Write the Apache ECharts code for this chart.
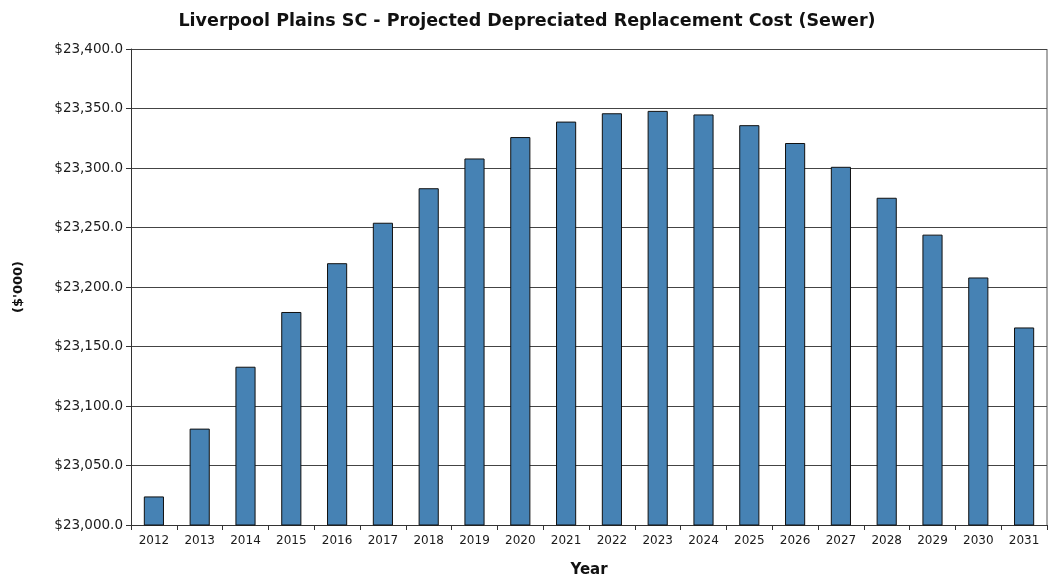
<!DOCTYPE html>
<html>
<head>
<meta charset="utf-8">
<script src="https://cdn.jsdelivr.net/npm/echarts@6/dist/echarts.min.js"></script>
<style>
  html, body { margin: 0; padding: 0; background: #fff; }
  #chart { width: 1048px; height: 580px; }
</style>
</head>
<body>
<div id="chart"></div>
<script>
// Projected depreciated replacement cost of sewer assets, $'000
const years = ['2012','2013','2014','2015','2016','2017','2018','2019','2020','2021',
               '2022','2023','2024','2025','2026','2027','2028','2029','2030','2031'];
const costValues = [23024, 23081, 23133, 23179, 23220, 23254, 23283, 23308, 23326, 23339,
                    23346, 23348, 23345, 23336, 23321, 23301, 23275, 23244, 23208, 23166];
const yMin = 23000;
const yMax = 23400;
const yStep = 50;

const chart = echarts.init(document.getElementById('chart'));

function money(v) {
  return '$' + v.toLocaleString('en-US', { minimumFractionDigits: 1, maximumFractionDigits: 1 });
}

chart.setOption({
  animation: false,
  title: {
    text: "Liverpool Plains SC - Projected Depreciated Replacement Cost (Sewer)",
    left: 522,
    textAlign: 'center',
    top: 7,
    textStyle: { fontFamily: 'DejaVu Sans', fontWeight: 'bold', fontSize: 17.5, color: '#111' }
  },
  grid: { left: 131, right: 1, top: 49, bottom: 55, containLabel: false, outerBoundsMode: 'none' },
  xAxis: {
    type: 'category',
    data: years,
    name: 'Year',
    nameLocation: 'middle',
    nameGap: 38,
    nameTextStyle: { fontFamily: 'DejaVu Sans', fontWeight: 'bold', fontSize: 15, color: '#111' },
    axisLine: { lineStyle: { color: '#333', width: 1 } },
    axisTick: { show: true, alignWithLabel: false, length: 5, lineStyle: { color: '#333' } },
    axisLabel: { fontFamily: 'DejaVu Sans', fontSize: 12, color: '#1a1a1a', margin: 10, interval: 0 }
  },
  yAxis: {
    type: 'value',
    min: yMin,
    max: yMax,
    interval: yStep,
    name: "($'000)",
    nameLocation: 'middle',
    nameGap: 106,
    nameRotate: 90,
    nameTextStyle: { fontFamily: 'DejaVu Sans', fontWeight: 'bold', fontSize: 13, color: '#111' },
    axisLine: { show: true, lineStyle: { color: '#333', width: 1 } },
    axisTick: { show: true, length: 5, lineStyle: { color: '#333' } },
    axisLabel: { fontFamily: 'DejaVu Sans', fontSize: 13.5, color: '#1a1a1a', margin: 8, formatter: money },
    splitLine: { show: true, lineStyle: { color: '#444', width: 1 } }
  },
  series: [{
    type: 'bar',
    data: costValues,
    barWidth: '44%',
    itemStyle: { color: '#4682B4', borderColor: '#111', borderWidth: 1 }
  }],
  graphic: [{
    // right border of the plot frame
    type: 'line',
    shape: { x1: 1047, y1: 49, x2: 1047, y2: 525 },
    style: { stroke: '#555', lineWidth: 1 }
  }]
});
</script>
</body>
</html>
